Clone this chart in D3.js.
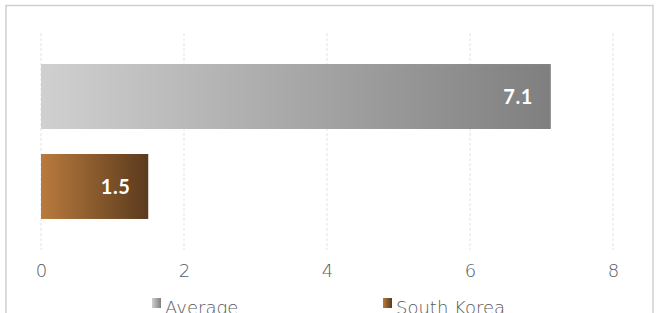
<!DOCTYPE html>
<html><head><meta charset="utf-8">
<script src="https://cdn.jsdelivr.net/npm/d3@7"></script>
<style>body{margin:0;background:#fff;overflow:hidden}svg{display:block}</style>
</head><body>
<script>
const categories = ["Average", "South Korea"];
const values = [7.13, 1.5];
const labels = ["7.1", "1.5"];
const ticks = [0, 2, 4, 6, 8];

const W = 658, H = 313;
const svg = d3.select("body").append("svg").attr("width", W).attr("height", H);
const font = "'Lato','Open Sans',sans-serif";
const thin = "'DejaVu Sans',sans-serif";

const defs = svg.append("defs");
const grads = [["#d0d0d0", "#7f7f7f"], ["#b97b3d", "#5a3a1d"]];
grads.forEach((g, i) => {
  const lg = defs.append("linearGradient").attr("id", "g" + i).attr("x1", 0).attr("x2", 1).attr("y1", 0).attr("y2", 0);
  lg.append("stop").attr("offset", 0).attr("stop-color", g[0]);
  lg.append("stop").attr("offset", 1).attr("stop-color", g[1]);
});

svg.append("rect").attr("x", 6).attr("y", 5.5).attr("width", 647).attr("height", 320)
  .attr("fill", "none").attr("stroke", "#d0d0d0").attr("stroke-width", 1.5);

const x = d3.scaleLinear().domain([0, 8]).range([41, 613]);
const y = d3.scaleBand().domain(categories).range([40, 243]).paddingInner(0.278).paddingOuter(0.267);

svg.append("g").selectAll("line").data(ticks).join("line")
  .attr("x1", d => x(d)).attr("x2", d => x(d)).attr("y1", 33).attr("y2", 250)
  .attr("stroke", "#e3e3e3").attr("stroke-dasharray", "3,2");

svg.append("g").selectAll("rect").data(values).join("rect")
  .attr("x", x(0)).attr("y", (d, i) => y(categories[i]))
  .attr("width", d => x(d) - x(0)).attr("height", y.bandwidth())
  .attr("fill", (d, i) => `url(#g${i})`);

svg.append("g").selectAll("text").data(values).join("text")
  .attr("x", d => x(d) - 18).attr("y", (d, i) => y(categories[i]) + y.bandwidth() / 2)
  .attr("dy", "0.36em").attr("text-anchor", "end")
  .attr("fill", "#fff").attr("font-weight", "bold").attr("font-size", 20).attr("font-family", font)
  .attr("letter-spacing", 0.5)
  .text((d, i) => labels[i]);

const ax = d3.axisBottom(x).tickValues(ticks).tickSize(0).tickPadding(0).tickFormat(d3.format("d"));
const axg = svg.append("g").attr("transform", "translate(0,264)").call(ax);
axg.select(".domain").remove();
axg.selectAll("text").attr("font-size", 18).attr("font-family", thin).attr("fill", "#595959").attr("font-weight", 200);

const leg = svg.append("g");
const lx = [152, 383];
categories.forEach((c, i) => {
  leg.append("rect").attr("x", lx[i]).attr("y", 298).attr("width", 9).attr("height", 10).attr("fill", `url(#g${i})`);
  leg.append("text").attr("x", lx[i] + 13).attr("y", 314).attr("font-size", 18).attr("font-family", thin)
    .attr("fill", "#595959").attr("font-weight", 200).text(c);
});
</script>
</body></html>
